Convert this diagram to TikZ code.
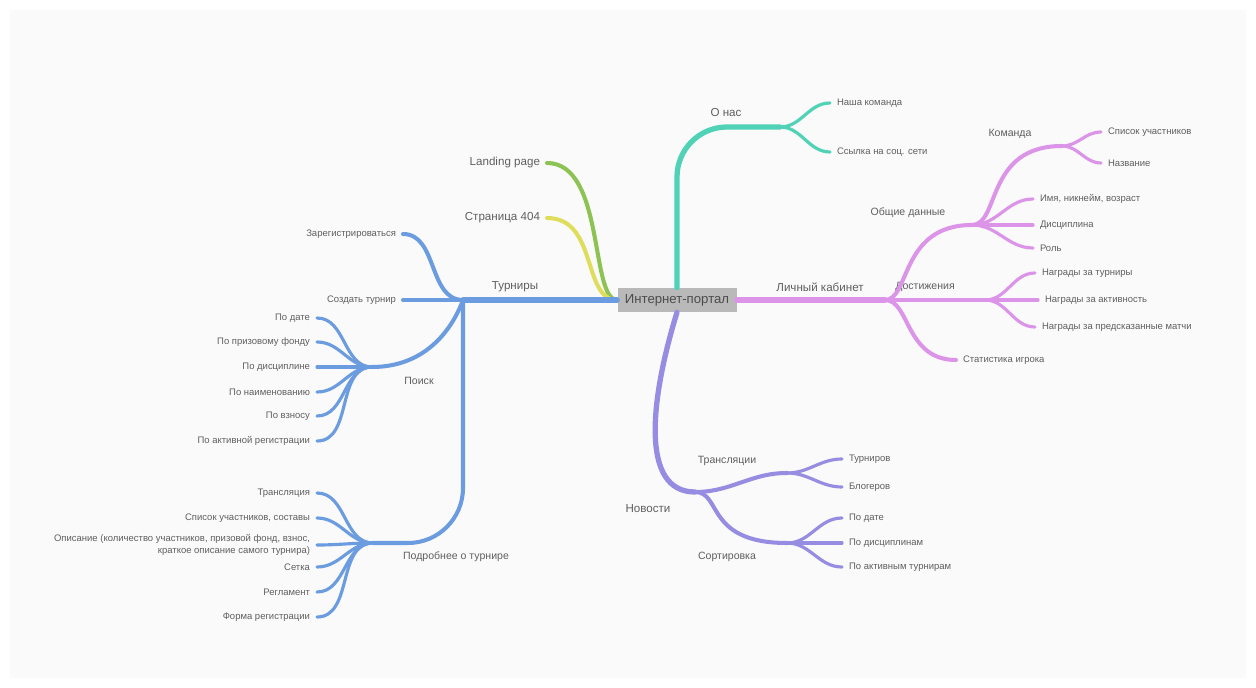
\documentclass[tikz,border=0pt]{standalone}
\usepackage{fontspec}
\setmainfont{Liberation Sans}
\usepackage{xcolor}
\usepackage{tikz}
\definecolor{mapteal}{RGB}{80, 210, 182}
\definecolor{mappink}{RGB}{220, 148, 232}
\definecolor{mappurple}{RGB}{150, 140, 225}
\definecolor{mapblue}{RGB}{108, 156, 224}
\definecolor{mapgreen}{RGB}{140, 195, 82}
\definecolor{mapyellow}{RGB}{222, 222, 92}
\definecolor{maptext}{RGB}{95, 95, 95}
\definecolor{mapbg}{RGB}{250, 250, 250}

\begin{document}
\begin{tikzpicture}[
    x=0.02cm, y=-0.02cm,
    root/.style={rectangle, fill=gray!55, text=black!70, font=\fontsize{7.5}{9}\selectfont, minimum width=2.38cm, minimum height=0.48cm, inner sep=2pt},
    lbl/.style={font=\fontsize{5.4}{6.4}\selectfont, text=maptext, inner sep=1pt, outer sep=3pt},
    lblL/.style={lbl, anchor=east, align=right},
    lblR/.style={lbl, anchor=west},
    sub/.style={font=\fontsize{6}{7}\selectfont, text=maptext, inner sep=1pt},
    main/.style={font=\fontsize{6.6}{8}\selectfont, text=maptext, inner sep=1pt},
    pagelbl/.style={main, outer sep=3pt, anchor=east},
    trunk/.style={draw=#1, line width=3pt, line cap=round},
    br/.style={draw=#1, line width=2.3pt, line cap=round},
    lf/.style={draw=#1, line width=1.8pt, line cap=round}
]
\fill[white] (0,0) rectangle (1256,688);
\fill[mapbg] (10,10) rectangle (1246,678);
\useasboundingbox (0,0) rectangle (1256,688);

% centre
\node[root] (portal) at (677,300) {Интернет-портал};

% О нас
\coordinate (jOnas) at (780,127);
\node[main] (onas) at (726,113) {О нас};
\node[lblR] (team) at (830,103) {Наша команда};
\node[lblR] (social) at (830,152) {Ссылка на соц. сети};
\draw[trunk=mapteal, rounded corners=1cm] (portal.north) |- (jOnas);
\draw[lf=mapteal] (jOnas) to[out=0, in=180] (team.west);
\draw[lf=mapteal] (jOnas) to[out=0, in=180] (social.west);

% Личный кабинет
\coordinate (jLk) at (885,300);
\coordinate (jOd) at (972,225);
\coordinate (jKom) at (1062,146);
\coordinate (jDost) at (985,300);
\node[main] (lk) at (820,287) {Личный кабинет};
\node[sub] (od) at (908,213) {Общие данные};
\node[sub] (kom) at (1010,134) {Команда};
\node[sub] (dost) at (925,287) {Достижения};
\node[lblR] (members) at (1101,132) {Список участников};
\node[lblR] (tname) at (1101,163) {Название};
\node[lblR] (nick) at (1033,199) {Имя, никнейм, возраст};
\node[lblR] (disc) at (1033,225) {Дисциплина};
\node[lblR] (role) at (1033,248) {Роль};
\node[lblR] (aw1) at (1035,273) {Награды за турниры};
\node[lblR] (aw2) at (1038,300) {Награды за активность};
\node[lblR] (aw3) at (1035,327) {Награды за предсказанные матчи};
\node[lblR] (stat) at (956,360) {Статистика игрока};
\draw[trunk=mappink] (portal.east) -- (jLk);
\draw[br=mappink] (jLk) .. controls (910,300) and (900,225) .. (jOd);
\draw[br=mappink] (jOd) .. controls (1000,225) and (985,146) .. (jKom);
\draw[lf=mappink] (jKom) to[out=0, in=180] (members.west);
\draw[lf=mappink] (jKom) to[out=0, in=180] (tname.west);
\draw[lf=mappink] (jOd) to[out=0, in=180] (nick.west);
\draw[lf=mappink] (jOd) -- (disc.west);
\draw[lf=mappink] (jOd) to[out=0, in=180] (role.west);
\draw[br=mappink] (jLk) -- (jDost);
\draw[lf=mappink] (jDost) to[out=0, in=180] (aw1.west);
\draw[lf=mappink] (jDost) -- (aw2.west);
\draw[lf=mappink] (jDost) to[out=0, in=180] (aw3.west);
\draw[br=mappink] (jLk) .. controls (910,300) and (905,360) .. (stat.west);

% Новости
\coordinate (jNov) at (695,492);
\coordinate (jTr) at (787,473);
\coordinate (jSort) at (787,543);
\node[main] (nov) at (648,509) {Новости};
\node[sub] (trans) at (727,461) {Трансляции};
\node[sub] (sortl) at (727,557) {Сортировка};
\node[lblR] (trT) at (842,459) {Турниров};
\node[lblR] (trB) at (842,487) {Блогеров};
\node[lblR] (sDate) at (842,518) {По дате};
\node[lblR] (sDisc) at (842,543) {По дисциплинам};
\node[lblR] (sAct) at (842,567) {По активным турнирам};
\draw[trunk=mappurple] (portal.south) .. controls (650,400) and (640,492) .. (jNov);
\draw[br=mappurple] (jNov) to[out=0, in=180] (jTr);
\draw[br=mappurple] (jNov) .. controls (722,492) and (705,543) .. (jSort);
\draw[lf=mappurple] (jTr) to[out=0, in=180] (trT.west);
\draw[lf=mappurple] (jTr) to[out=0, in=180] (trB.west);
\draw[lf=mappurple] (jSort) to[out=0, in=180] (sDate.west);
\draw[lf=mappurple] (jSort) -- (sDisc.west);
\draw[lf=mappurple] (jSort) to[out=0, in=180] (sAct.west);

% Landing page, Страница 404
\node[pagelbl] (landing) at (547,163) {Landing page};
\node[pagelbl] (err) at (547,218) {Страница 404};
\draw[br=mapgreen] (landing.east) .. controls (605,163) and (590,300) .. (portal.west);
\draw[br=mapyellow] (err.east) .. controls (598,218) and (582,300) .. (portal.west);

% Турниры
\coordinate (jTur) at (463,300);
\coordinate (jPoisk) at (372,367);
\coordinate (jPodr) at (373,543);
\node[main] (tur) at (515,287) {Турниры};
\node[lblL] (reg) at (403,234) {Зарегистрироваться};
\node[lblL] (create) at (403,300) {Создать турнир};
\node[sub] (poisk) at (419,381) {Поиск};
\node[sub] (podr) at (456,557) {Подробнее о турнире};
\node[lblL] (p1) at (317,318) {По дате};
\node[lblL] (p2) at (317,342) {По призовому фонду};
\node[lblL] (p3) at (317,367) {По дисциплине};
\node[lblL] (p4) at (317,392) {По наименованию};
\node[lblL] (p5) at (317,416) {По взносу};
\node[lblL] (p6) at (317,441) {По активной регистрации};
\node[lblL] (d1) at (317,493) {Трансляция};
\node[lblL] (d2) at (317,518) {Список участников, составы};
\node[lblL] (d3) at (317,545) {Описание (количество участников, призовой фонд, взнос,\\краткое описание самого турнира)};
\node[lblL] (d4) at (317,567) {Сетка};
\node[lblL] (d5) at (317,592) {Регламент};
\node[lblL] (d6) at (317,617) {Форма регистрации};
\draw[trunk=mapblue] (portal.west) -- (jTur);
\draw[br=mapblue] (jTur) to[out=180, in=0] (reg.east);
\draw[br=mapblue] (jTur) -- (create.east);
\draw[br=mapblue] (jTur) .. controls (452,330) and (425,367) .. (jPoisk);
\draw[br=mapblue, rounded corners=1.1cm] (jTur) |- (jPodr);
\draw[lf=mapblue] (jPoisk) to[out=180, in=0] (p1.east);
\draw[lf=mapblue] (jPoisk) to[out=180, in=0] (p2.east);
\draw[lf=mapblue] (jPoisk) -- (p3.east);
\draw[lf=mapblue] (jPoisk) to[out=180, in=0] (p4.east);
\draw[lf=mapblue] (jPoisk) to[out=180, in=0] (p5.east);
\draw[lf=mapblue] (jPoisk) to[out=180, in=0] (p6.east);
\draw[lf=mapblue] (jPodr) to[out=180, in=0] (d1.east);
\draw[lf=mapblue] (jPodr) to[out=180, in=0] (d2.east);
\draw[lf=mapblue] (jPodr) to[out=180, in=0] (d3.east);
\draw[lf=mapblue] (jPodr) to[out=180, in=0] (d4.east);
\draw[lf=mapblue] (jPodr) to[out=180, in=0] (d5.east);
\draw[lf=mapblue] (jPodr) to[out=180, in=0] (d6.east);

\end{tikzpicture}
\end{document}
